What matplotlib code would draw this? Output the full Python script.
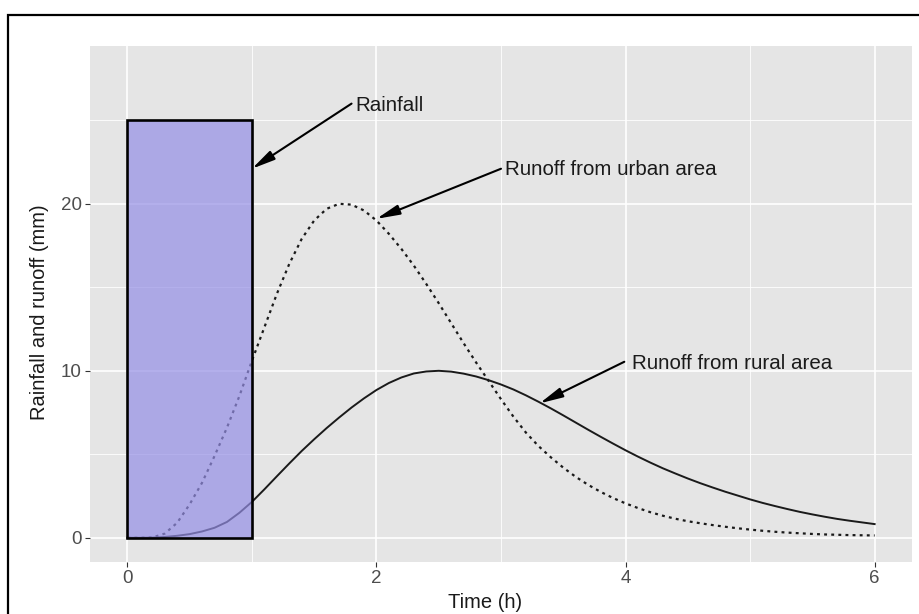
import numpy as np
import matplotlib
matplotlib.use("Agg")
from matplotlib import pyplot as plt
from matplotlib.patches import Rectangle

plt.rcParams['font.family'] = ['Liberation Sans', 'DejaVu Sans']

### DATA

time_h = [0.0, 0.1, 0.2, 0.3, 0.4, 0.5, 0.6, 0.7, 0.8, 0.9,
          1.0, 1.1, 1.2, 1.3, 1.4, 1.5, 1.6, 1.7, 1.8, 1.9,
          2.0, 2.1, 2.2, 2.3, 2.4, 2.5, 2.6, 2.7, 2.8, 2.9,
          3.0, 3.1, 3.2, 3.3, 3.4, 3.5, 3.6, 3.7, 3.8, 3.9,
          4.0, 4.1, 4.2, 4.3, 4.4, 4.5, 4.6, 4.7, 4.8, 4.9,
          5.0, 5.1, 5.2, 5.3, 5.4, 5.5, 5.6, 5.7, 5.8, 5.9, 6.0]

urban_runoff = [0.0, 0.0, 0.02, 0.25, 0.9, 2.0, 3.3, 4.9, 6.6, 8.5,
                10.6, 12.6, 14.6, 16.4, 17.9, 19.0, 19.7, 20.0, 19.95, 19.6,
                19.0, 18.2, 17.3, 16.3, 15.2, 14.05, 12.85, 11.65, 10.5, 9.4,
                8.3, 7.25, 6.3, 5.5, 4.82, 4.2, 3.65, 3.17, 2.75, 2.38,
                2.06, 1.78, 1.53, 1.32, 1.14, 0.99, 0.87, 0.76, 0.66, 0.57,
                0.49, 0.42, 0.36, 0.31, 0.27, 0.23, 0.2, 0.18, 0.16, 0.15, 0.14]

rural_runoff = [0.0, 0.0, 0.01, 0.05, 0.12, 0.22, 0.38, 0.6, 0.95, 1.5,
                2.15, 2.9, 3.68, 4.45, 5.2, 5.9, 6.57, 7.2, 7.8, 8.35,
                8.85, 9.27, 9.6, 9.84, 9.96, 10.0, 9.95, 9.83, 9.66, 9.44,
                9.18, 8.88, 8.53, 8.15, 7.75, 7.33, 6.9, 6.47, 6.05, 5.64,
                5.24, 4.86, 4.5, 4.16, 3.85, 3.55, 3.27, 3.01, 2.76, 2.53,
                2.3, 2.09, 1.9, 1.72, 1.55, 1.4, 1.26, 1.13, 1.02, 0.92, 0.82]

rain_start = [0.0]
rain_duration = [1.0]
rain_depth = [25.0]

x_ticks = [0, 2, 4, 6]
y_ticks = [0, 10, 20]


### FIGURE

fig = plt.figure(figsize=(9.2, 6.14), dpi=100)
ax = fig.add_axes([90/920, 52/614, 822/920, 516/614])

ax.set_facecolor('#E5E5E5')
ax.set_axisbelow(True)
for s in ax.spines.values():
    s.set_visible(False)

ax.set_xlim(-0.3, 6.3)
ax.set_ylim(-1.45, 29.45)
ax.set_xticks(x_ticks)
ax.set_yticks(y_ticks)
ax.set_xticks([1, 3, 5], minor=True)
ax.set_yticks([5, 15, 25], minor=True)
ax.grid(which='major', color='white', linewidth=1.2)
ax.grid(which='minor', color='white', linewidth=0.6)
ax.tick_params(which='major', length=3.5, width=0.8, color='#333333',
               labelsize=13.5, labelcolor='#4D4D4D', pad=2.5)
ax.tick_params(which='minor', length=0)

# runoff curves
ax.plot(time_h, rural_runoff, color='#1a1a1a', linewidth=1.4, zorder=2)
ax.plot(time_h, urban_runoff, color='#1a1a1a', linewidth=1.6,
        linestyle=(0, (1.3, 1.9)), zorder=2)

# rainfall block, semi transparent on top of the curves
ax.bar(rain_start, rain_depth, width=rain_duration, align='edge',
       color=(149/255, 143/255, 230/255, 0.7), edgecolor='black',
       linewidth=1.9, zorder=3)

arrow = dict(arrowstyle='-|>,head_length=1.4,head_width=0.3',
             color='black', lw=1.5, shrinkA=0, shrinkB=0)
ax.annotate('', xy=(1.0, 22.1), xytext=(1.8, 26.0), arrowprops=arrow, zorder=5)
ax.annotate('', xy=(2.0, 19.1), xytext=(3.0, 22.1), arrowprops=arrow, zorder=5)
ax.annotate('', xy=(3.31, 8.05), xytext=(3.99, 10.54), arrowprops=arrow, zorder=5)

ax.text(1.83, 25.9, 'Rainfall', fontsize=14.8, color='#1a1a1a',
        ha='left', va='center')
ax.text(3.03, 22.07, 'Runoff from urban area', fontsize=14.8, color='#1a1a1a',
        ha='left', va='center')
ax.text(4.05, 10.44, 'Runoff from rural area', fontsize=14.8, color='#1a1a1a',
        ha='left', va='center')

fig.text(485/920, 1 - 603/614, 'Time (h)', fontsize=14.5, color='#1a1a1a',
         ha='center', va='center')
fig.text(40/920, 1 - 312/614, 'Rainfall and runoff (mm)', fontsize=14.5,
         color='#1a1a1a', rotation=90, ha='center', va='center')

# outer frame (only left and top edges fall inside the picture)
fig.add_artist(Rectangle((8/920, -0.1), 1.2, 1 - 15/614 + 0.1,
                         transform=fig.transFigure, fill=False,
                         edgecolor='black', linewidth=1.6))

fig.savefig('out.png', dpi=100)
